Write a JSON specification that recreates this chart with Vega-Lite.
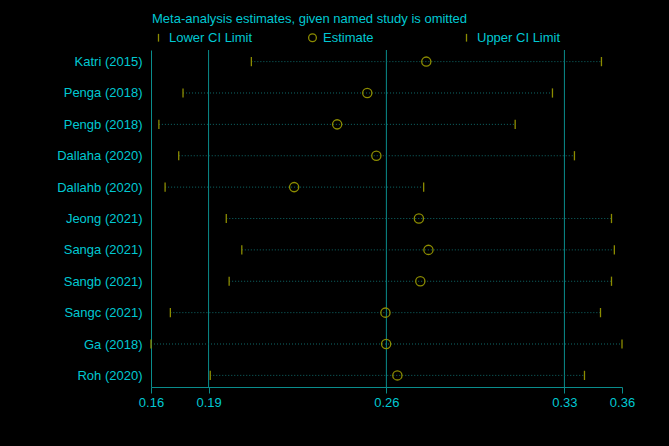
{
  "$schema": "https://vega.github.io/schema/vega-lite/v6.json",
  "autosize": "none",
  "width": 471,
  "height": 337,
  "padding": {"left": 151, "top": 50, "right": 47, "bottom": 59},
  "background": "#000000",
  "config": {
    "view": {"stroke": null},
    "font": "Liberation Sans",
    "axis": {"labelFont": "Liberation Sans", "labelFontSize": 13, "labelColor": "#00C8D2", "domainColor": "#0A8C8C", "tickColor": "#0A8C8C", "grid": false, "title": null}
  },
  "datasets": {
    "studies": [
      {"study": "Katri (2015)", "Lower CI Limit": 0.2035, "Estimate": 0.2767, "Upper CI Limit": 0.3500},
      {"study": "Penga (2018)", "Lower CI Limit": 0.1749, "Estimate": 0.2520, "Upper CI Limit": 0.3295},
      {"study": "Pengb (2018)", "Lower CI Limit": 0.1648, "Estimate": 0.2394, "Upper CI Limit": 0.3139},
      {"study": "Dallaha (2020)", "Lower CI Limit": 0.1731, "Estimate": 0.2558, "Upper CI Limit": 0.3387},
      {"study": "Dallahb (2020)", "Lower CI Limit": 0.1674, "Estimate": 0.2214, "Upper CI Limit": 0.2756},
      {"study": "Jeong (2021)", "Lower CI Limit": 0.1930, "Estimate": 0.2736, "Upper CI Limit": 0.3542},
      {"study": "Sanga (2021)", "Lower CI Limit": 0.1995, "Estimate": 0.2776, "Upper CI Limit": 0.3554},
      {"study": "Sangb (2021)", "Lower CI Limit": 0.1942, "Estimate": 0.2742, "Upper CI Limit": 0.3542},
      {"study": "Sangc (2021)", "Lower CI Limit": 0.1696, "Estimate": 0.2596, "Upper CI Limit": 0.3496},
      {"study": "Ga (2018)", "Lower CI Limit": 0.1615, "Estimate": 0.2599, "Upper CI Limit": 0.3586},
      {"study": "Roh (2020)", "Lower CI Limit": 0.1863, "Estimate": 0.2646, "Upper CI Limit": 0.3429}
    ],
    "overall": [
      {"value": 0.1856},
      {"value": 0.2600},
      {"value": 0.3345}
    ]
  },
  "layer": [
    {
      "data": {"name": "overall"},
      "mark": {"type": "rule", "color": "#0A8C8C", "strokeWidth": 1},
      "encoding": {
        "x": {"field": "value", "type": "quantitative", "scale": {"domain": [0.1615, 0.3586], "nice": false, "zero": false}}
      }
    },
    {
      "data": {"name": "studies"},
      "mark": {"type": "rule", "color": "#0E6A6A", "strokeWidth": 1, "strokeDash": [1, 2]},
      "encoding": {
        "y": {"field": "study", "type": "nominal", "sort": null, "scale": {"type": "point", "padding": 0.37}},
        "x": {"field": "Lower CI Limit", "type": "quantitative"},
        "x2": {"field": "Upper CI Limit"}
      }
    },
    {
      "data": {"name": "studies"},
      "transform": [{"fold": ["Lower CI Limit", "Estimate", "Upper CI Limit"], "as": ["series", "v"]}],
      "mark": {"type": "point", "filled": false, "strokeWidth": 1.3, "color": "#8C8C00", "size": 85, "opacity": 1},
      "encoding": {
        "y": {"field": "study", "type": "nominal", "sort": null,
              "axis": {"domain": true, "ticks": false, "labelPadding": 9}},
        "x": {"field": "v", "type": "quantitative",
              "axis": {"values": [0.1615, 0.1856, 0.26, 0.3345, 0.3586], "format": ".2f", "tickSize": 6, "labelPadding": 3, "labelFlush": false}},
        "shape": {
          "field": "series", "type": "nominal",
          "scale": {"domain": ["Lower CI Limit", "Estimate", "Upper CI Limit"], "range": ["M0,-1L0,1", "circle", "M0,-1L0,1"]},
          "legend": {
            "title": "Meta-analysis estimates, given named study is omitted",
            "orient": "none", "legendX": 1, "legendY": -37,
            "direction": "horizontal", "columns": 3, "gridAlign": "all", "columnPadding": 53,
            "titleFont": "Liberation Sans", "titleFontSize": 13, "titleFontWeight": "normal", "titleColor": "#00C8D2", "titlePadding": 5, "titleLimit": 600,
            "labelFont": "Liberation Sans", "labelFontSize": 13, "labelColor": "#00C8D2", "labelOffset": 4, "labelLimit": 300,
            "symbolStrokeColor": "#8C8C00", "symbolFillColor": "transparent", "symbolSize": 60, "symbolStrokeWidth": 1.3
          }
        }
      }
    }
  ]
}
